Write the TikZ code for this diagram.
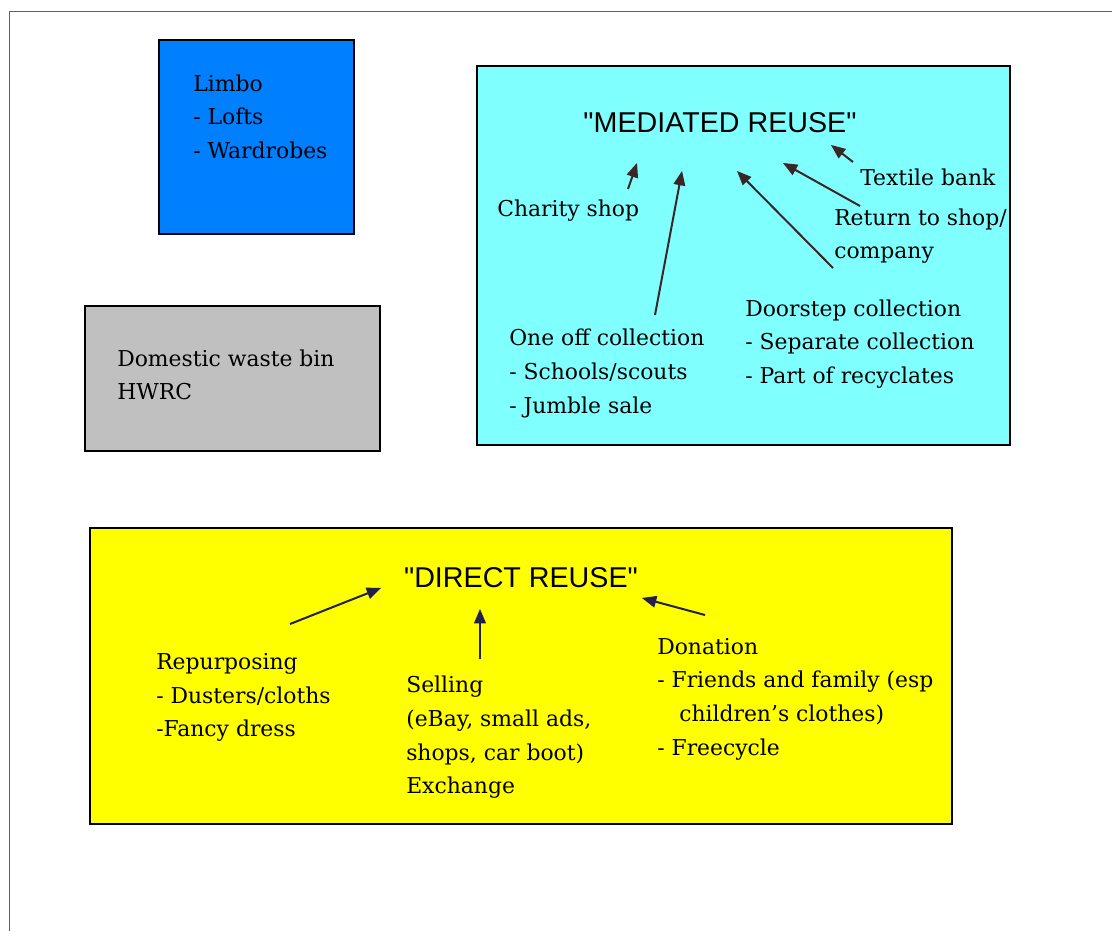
\documentclass[tikz,border=0pt]{standalone}
\usepackage{fontspec}
\setmainfont{DejaVu Serif}
\newfontfamily\headfont{Liberation Sans}
\usetikzlibrary{arrows}

\definecolor{limboblue}{HTML}{0080FF}
\definecolor{bingray}{HTML}{C0C0C0}
\definecolor{mediatedcyan}{HTML}{80FFFF}
\definecolor{directyellow}{HTML}{FFFF00}
\definecolor{framegray}{HTML}{606060}
\definecolor{cyanarrow}{HTML}{3A2626}
\definecolor{yellowarrow}{HTML}{202048}

\tikzset{
  panel/.style={draw=black, line width=1pt},
  txt/.style={align=left, inner sep=0pt, anchor=west, font=\fontsize{16.4}{25.2}\selectfont},
  heading/.style={inner sep=0pt, font=\headfont\fontsize{21.5}{25}\selectfont},
  feed/.style={-triangle 45, line width=1.5pt}
}

\begin{document}
\begin{tikzpicture}[x=0.75pt, y=-0.75pt]
  \useasboundingbox (0,0) rectangle (1112,931);
  \draw [framegray] (1112,11) -- (9,11) -- (9,931); % page edge, top and left only

  % the four boxes
  \draw [panel, fill=limboblue] (159,40) rectangle (354,234);
  \draw [panel, fill=bingray] (85,306) rectangle (380,451);
  \draw [panel, fill=mediatedcyan] (477,66) rectangle (1010,445);
  \draw [panel, fill=directyellow] (90,528) rectangle (952,824);

  \node [txt] (limbo) at (193,116.5) {Limbo\\- Lofts\\- Wardrobes};
  \node [txt] (bin) at (117,375) {Domestic waste bin\\HWRC};

  % mediated reuse
  \node [heading] (mediated) at (720,123) {"MEDIATED REUSE"};
  \node [txt] (textile) at (860,177) {Textile bank};
  \node [txt] (charity) at (497,210.5) {Charity shop};
  \node [txt] (return) at (834,236) {Return to shop/\\company};
  \node [txt] (doorstep) at (745,344) {Doorstep collection\\- Separate collection\\- Part of recyclates};
  \node [txt] (oneoff) at (509,373.5) {One off collection\\- Schools/scouts\\- Jumble sale};

  \coordinate (charity tail) at (628,189);
  \coordinate (charity tip) at (637,163);
  \coordinate (oneoff tail) at (655,315);
  \coordinate (oneoff tip) at (682,171);
  \coordinate (doorstep tail) at (833,268);
  \coordinate (doorstep tip) at (737,171);
  \coordinate (return tail) at (860,206);
  \coordinate (return tip) at (783,163);
  \coordinate (textile tail) at (853,162);
  \coordinate (textile tip) at (831,145);

  \draw [feed, cyanarrow] (charity tail) -- (charity tip);
  \draw [feed, cyanarrow] (oneoff tail) -- (oneoff tip);
  \draw [feed, cyanarrow] (doorstep tail) -- (doorstep tip);
  \draw [feed, cyanarrow] (return tail) -- (return tip);
  \draw [feed, cyanarrow] (textile tail) -- (textile tip);

  % direct reuse
  \node [heading] (direct) at (521,578) {"DIRECT REUSE"};
  \node [txt] (repurpose) at (156,697.5) {Repurposing\\- Dusters/cloths\\-Fancy dress};
  \node [txt] (selling) at (406,737.5) {Selling\\(eBay, small ads,\\shops, car boot)\\Exchange};
  \node [txt] (donation) at (657,699) {Donation\\- Friends and family (esp\\\hspace{16.5pt}children's clothes)\\- Freecycle};

  \coordinate (repurpose tail) at (290,624);
  \coordinate (repurpose tip) at (381,588);
  \coordinate (selling tail) at (480,659);
  \coordinate (selling tip) at (480,609);
  \coordinate (donation tail) at (705,615);
  \coordinate (donation tip) at (642,598);

  \draw [feed, yellowarrow] (repurpose tail) -- (repurpose tip);
  \draw [feed, yellowarrow] (selling tail) -- (selling tip);
  \draw [feed, yellowarrow] (donation tail) -- (donation tip);
\end{tikzpicture}
\end{document}
